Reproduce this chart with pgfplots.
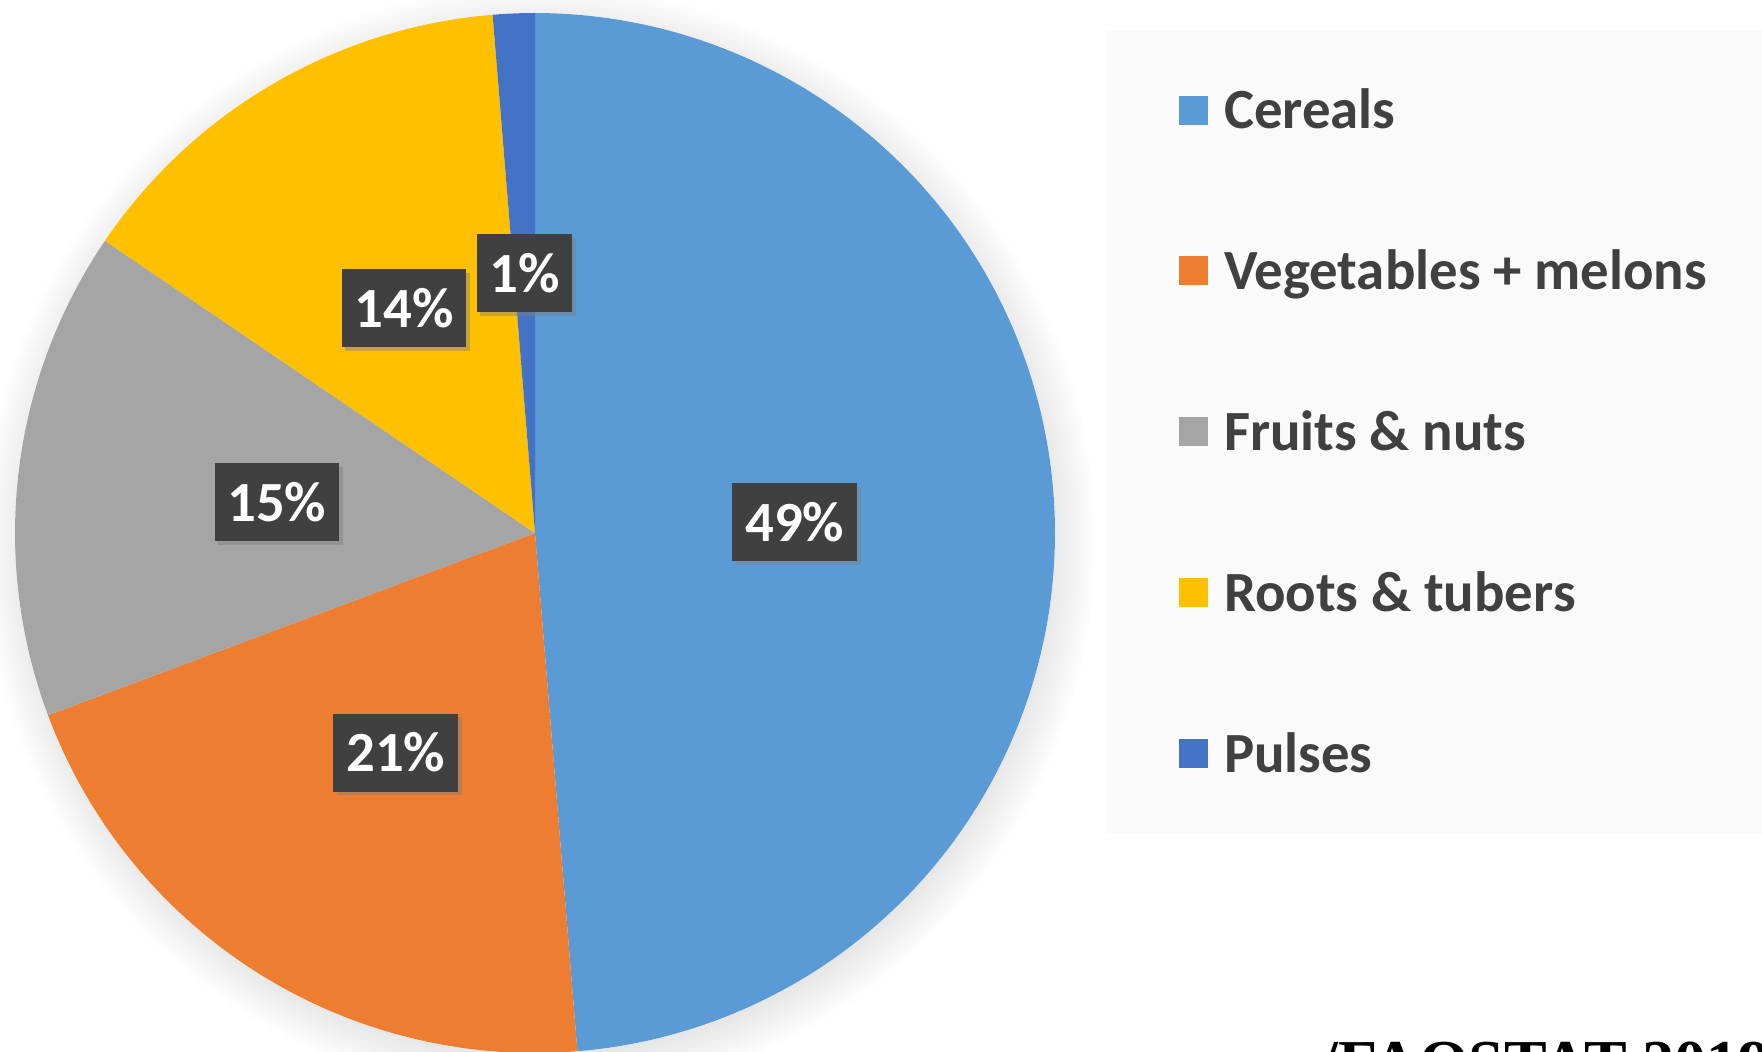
\documentclass[border=0pt]{standalone}
\usepackage{fontspec}
\setmainfont{Carlito}
\newfontfamily\faofont{Liberation Serif}
\usepackage{pgfplots}
\pgfplotsset{compat=1.18}
\usepackage{pgfplotstable}
\usetikzlibrary{shadows}

\definecolor{c0}{HTML}{5B9BD5}
\definecolor{c1}{HTML}{ED7D31}
\definecolor{c2}{HTML}{A5A5A5}
\definecolor{c3}{HTML}{FFC000}
\definecolor{c4}{HTML}{4472C4}
\definecolor{txtgrey}{HTML}{404040}
\definecolor{legbg}{HTML}{FAFAFA}

% share of each group, percent (clockwise from 12 o'clock)
\pgfplotstableread{
value
48.7
20.6
15.2
14.2
1.3
}\piedata

\begin{document}
\begin{tikzpicture}
\useasboundingbox (0,0) rectangle (440.5pt,262.75pt);
\clip (0,0) rectangle (440.5pt,262.75pt);
\begin{axis}[
    at={(0,0)}, anchor=south west,
    width=440.5pt, height=262.75pt, scale only axis,
    xmin=0, xmax=1762, ymin=0, ymax=1051,
    axis lines=none, ticks=none, clip=false,
    area legend, legend cell align=left,
    legend image code/.code={\fill[#1, draw=none] (0pt,-3.7pt) rectangle (7.3pt,3.55pt);},
    legend style={at={(axis cs:1178,1022.4)}, anchor=north west,
        draw=none, fill=none, inner sep=0pt, row sep=0pt, column sep=4pt,
        nodes={inner sep=0pt, text=txtgrey, font=\fontsize{14.2}{17}\selectfont\bfseries,
            text height=24.85pt, text depth=15.35pt}},
]
% legend panel
\fill[legbg] (axis cs:1106,217) rectangle (axis cs:1800,1021);
% soft shadow under the pie
\node[circle, fill=white, minimum size=260pt, inner sep=0pt,
    circular drop shadow={shadow xshift=1pt, shadow yshift=-2pt, shadow scale=1.07, opacity=0.35}]
    at (axis cs:535,518) {};

\pgfmathsetmacro{\startang}{90}
\pgfplotsforeachungrouped \i in {0,...,4}{%
  \pgfplotstablegetelem{\i}{value}\of\piedata
  \let\val\pgfplotsretval
  \pgfmathsetmacro{\endang}{\startang-3.6*\val}
  \edef\doslice{%
    \noexpand\addplot[draw=none, fill=c\i, domain=\endang:\startang, samples=150]
      ({535+520*cos(x)}, {518+520*sin(x)}) -- (axis cs:535,518) -- cycle;}%
  \doslice
  \let\startang\endang
}

% data labels
\pgfmathsetmacro{\startang}{90}
\pgfplotsforeachungrouped \i in {0,...,4}{%
  \pgfplotstablegetelem{\i}{value}\of\piedata
  \let\val\pgfplotsretval
  \pgfmathsetmacro{\endang}{\startang-3.6*\val}
  \pgfmathsetmacro{\lx}{535+260*cos((\startang+\endang)/2)}
  \pgfmathsetmacro{\ly}{518+260*sin((\startang+\endang)/2)}
  \pgfmathtruncatemacro{\pct}{round(\val)}
  \edef\dolabel{%
    \noexpand\node[fill=txtgrey, text=white, inner xsep=3.2pt, inner ysep=0pt,
      minimum height=19.5pt, font=\noexpand\fontsize{14.2}{17}\noexpand\selectfont\noexpand\bfseries,
      drop shadow={shadow xshift=0.9pt, shadow yshift=-0.9pt, opacity=0.45}]
      at (axis cs:\lx,\ly) {\pct\noexpand\%};}%
  \dolabel
  \let\startang\endang
}

% source note, cut by the lower edge as in the original
\node[anchor=base west, inner sep=0pt, font=\faofont\bfseries\fontsize{16}{19}\selectfont]
    at (axis cs:1320,-33) {/FAOSTAT 2019};

\legend{Cereals, Vegetables + melons, Fruits \& nuts, Roots \& tubers, Pulses}
\end{axis}
\end{tikzpicture}
\end{document}
